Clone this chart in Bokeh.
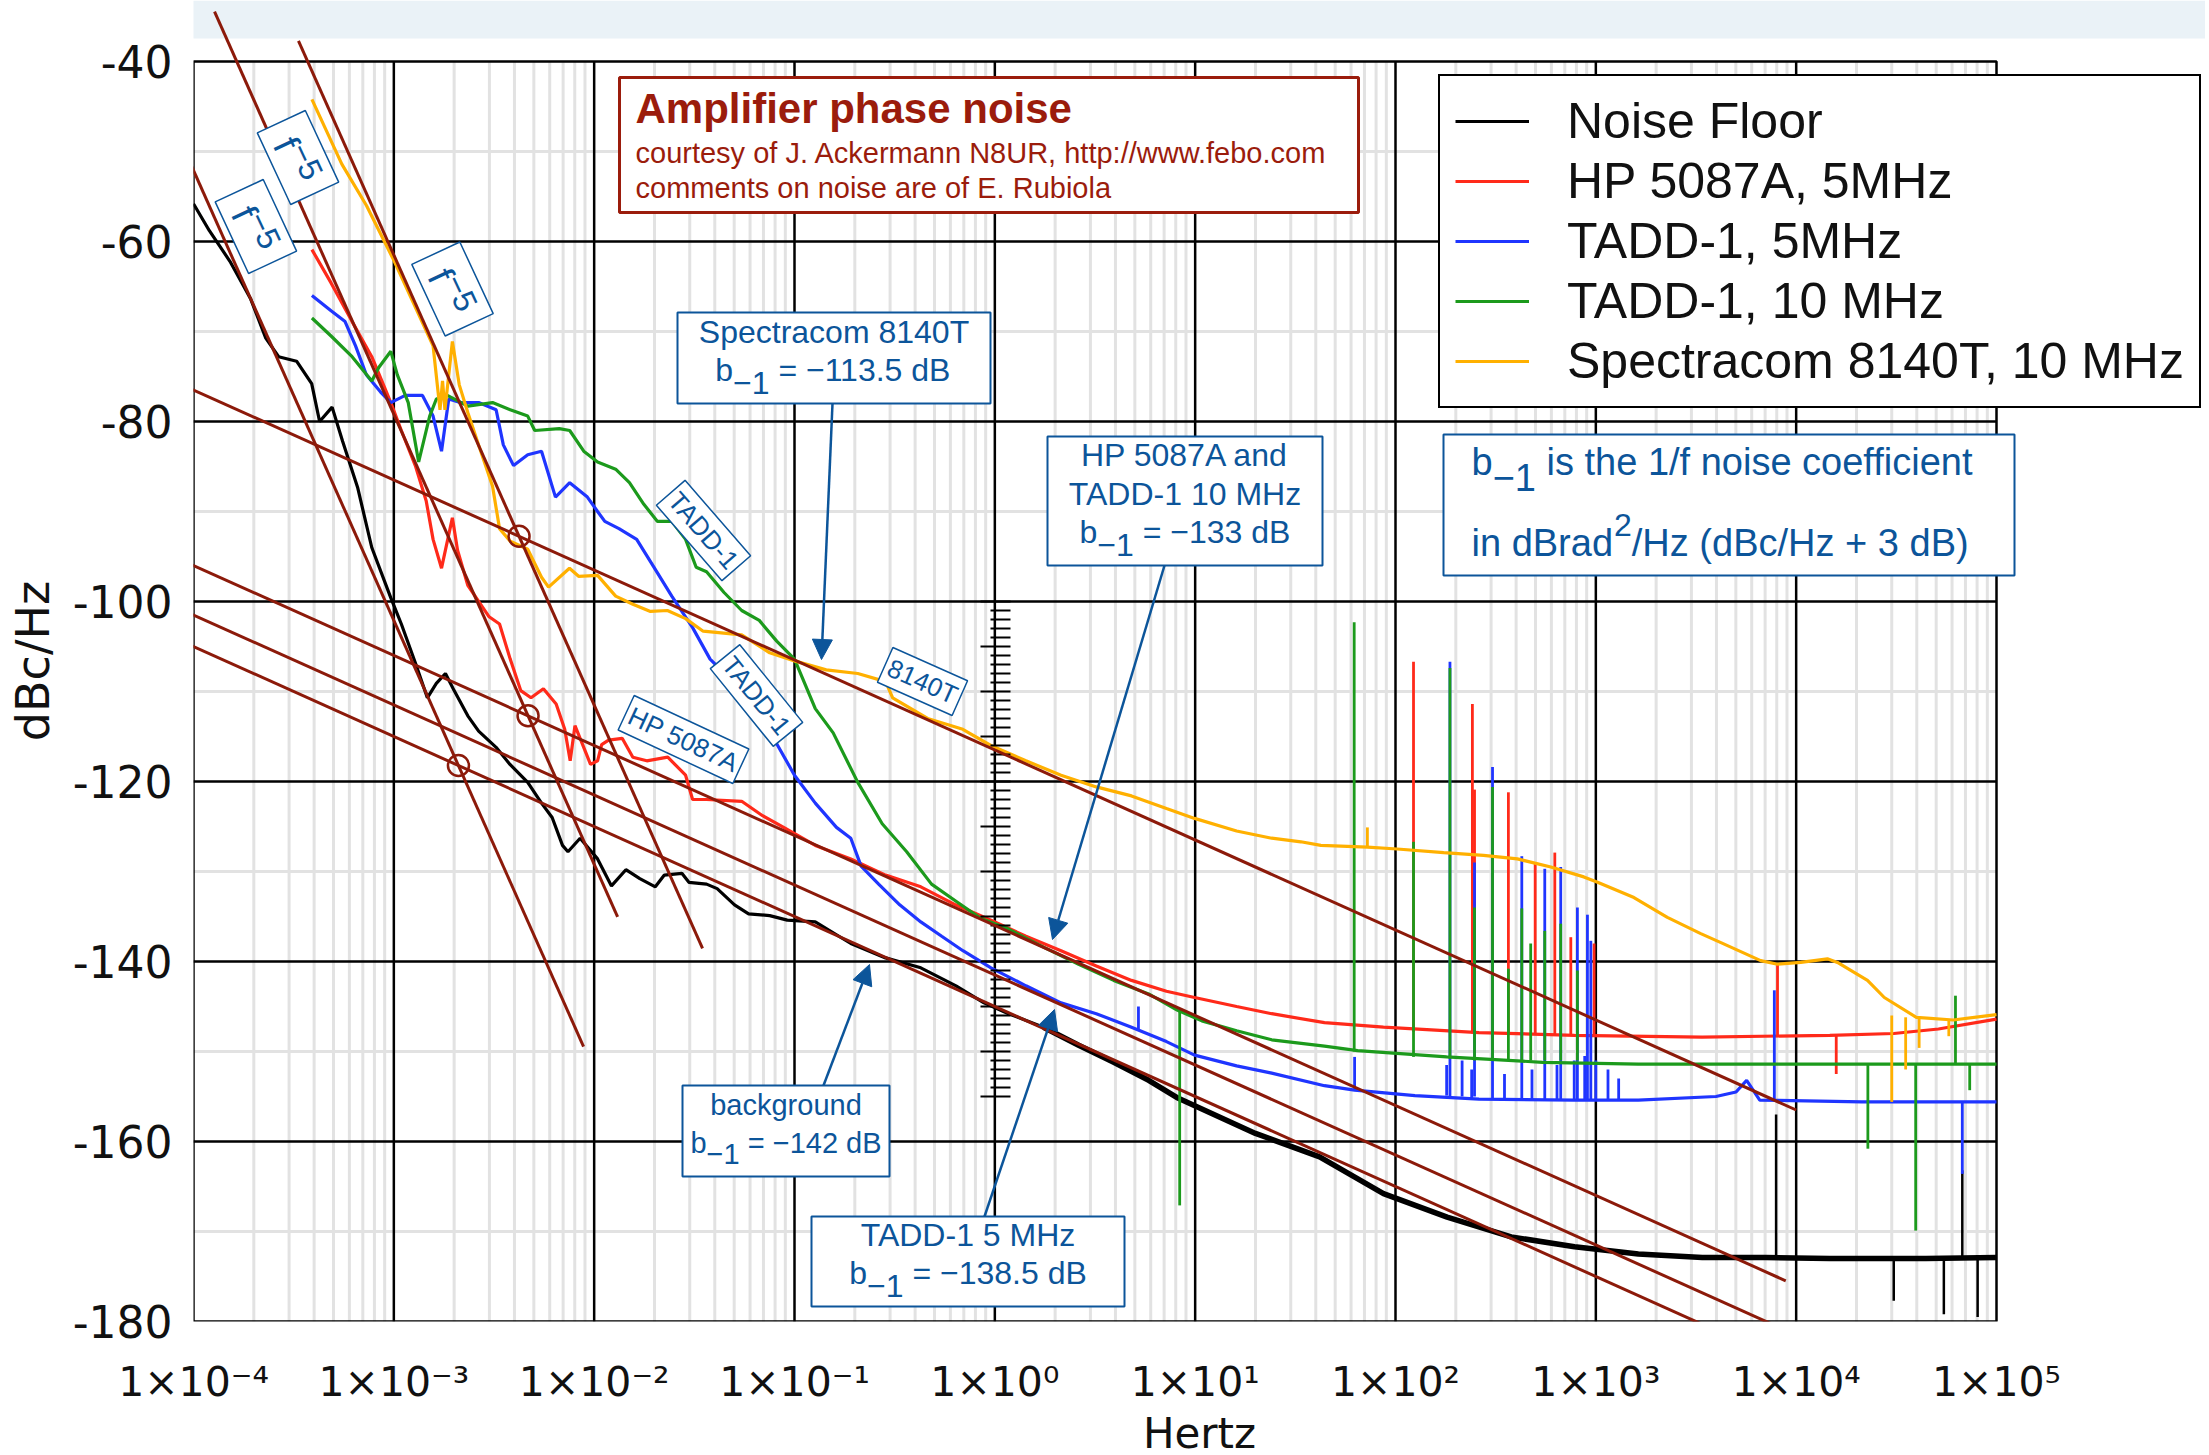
import math
from bokeh.plotting import figure
from bokeh.models import (Range1d, FixedTicker, Label, BoxAnnotation, Arrow, NormalHead,
                          Legend, LegendItem)
from bokeh.embed import file_html
from bokeh.resources import INLINE

# ---------------- data ----------------
BLACK_F = [1e-4, 1.2e-4, 1.52e-4, 1.93e-4, 2.29e-4, 2.66e-4, 3.27e-4, 3.89e-4, 4.26e-4, 4.92e-4,
           5.55e-4, 6.59e-4, 7.76e-4, 9.66e-4, 1.09e-3, 1.28e-3, 1.47e-3, 1.63e-3, 1.81e-3, 2.0e-3,
           2.34e-3, 2.65e-3, 3.24e-3, 3.8e-3, 4.66e-3, 5.46e-3, 6.17e-3, 6.95e-3, 7.4e-3, 8.51e-3,
           1.04e-2, 1.22e-2, 1.44e-2, 1.69e-2, 2.02e-2, 2.24e-2, 2.74e-2, 2.97e-2, 3.64e-2, 4.11e-2,
           5.02e-2, 5.9e-2, 7.52e-2, 9.2e-2, 0.127, 0.191, 0.285, 0.427, 0.64, 0.883,
           1.17, 1.75, 2.62, 3.92, 5.86, 8.09, 20.0, 41.8, 87.1, 181,
           378, 783, 1630, 3400, 7060, 14720, 44360, 1e5]
BLACK_DB = [-55.8, -58.8, -62.2, -66.4, -70.7, -72.8, -73.3, -75.8, -80.0, -78.4,
            -82.2, -87.3, -94.0, -99.6, -102.5, -106.8, -110.7, -109.1, -108.0, -109.9,
            -112.7, -114.4, -116.2, -118.1, -120.1, -122.4, -124.0, -127.1, -127.8, -126.3,
            -128.6, -131.6, -129.8, -130.8, -131.7, -130.4, -130.2, -131.2, -131.4, -131.9,
            -133.7, -134.7, -134.9, -135.4, -135.6, -138.0, -139.6, -140.7, -142.7, -144.6,
            -145.8, -147.3, -149.3, -151.2, -153.2, -155.1, -159.1, -161.7, -165.8, -168.4,
            -170.6, -171.7, -172.5, -172.9, -172.9, -173.0, -173.0, -172.9]
BLACK_SPK_F = [7940, 30700, 54600, 67500, 80500]
BLACK_SPK_A = [-172.9, -173.0, -173.0, -172.9, -172.9]
BLACK_SPK_B = [-157.0, -177.7, -179.2, -163.2, -179.5]

RED_F = [3.9e-4, 4.86e-4, 6.19e-4, 7.76e-4, 9.66e-4, 1.09e-3, 1.28e-3, 1.45e-3, 1.57e-3, 1.73e-3,
         1.96e-3, 2.08e-3, 2.34e-3, 2.99e-3, 3.37e-3, 3.81e-3, 4.3e-3, 4.84e-3, 5.58e-3, 6.46e-3,
         7.13e-3, 7.59e-3, 8.02e-3, 8.87e-3, 9.59e-3, 1.04e-2, 1.09e-2, 1.18e-2, 1.38e-2, 1.56e-2,
         1.83e-2, 2.33e-2, 2.86e-2, 3.1e-2, 3.64e-2, 5.45e-2, 6.93e-2, 8.83e-2, 0.127, 0.191,
         0.285, 0.427, 0.637, 0.957, 1.43, 2.14, 3.21, 4.81, 7.19, 9.93,
         16.1, 24.1, 44.2, 87.1, 261, 783, 3390, 14720, 30690, 51300, 1e5]
RED_DB = [-60.9, -64.6, -68.9, -72.8, -77.9, -81.0, -84.9, -88.8, -93.1, -96.3,
          -90.7, -94.3, -98.2, -101.7, -102.5, -106.4, -109.9, -110.7, -109.7, -111.4,
          -114.2, -117.7, -113.8, -116.2, -118.1, -117.7, -115.9, -115.4, -115.2, -117.3,
          -117.7, -117.3, -119.3, -122.0, -122.0, -122.2, -123.8, -125.1, -127.1, -128.6,
          -130.4, -131.7, -133.7, -135.4, -137.2, -138.8, -140.5, -142.1, -143.3, -144.0,
          -145.0, -145.8, -146.8, -147.3, -147.9, -148.2, -148.4, -148.2, -148.0, -147.5, -146.4]
RED_SPK_F = [123, 242, 248, 366, 498, 624, 750, 980, 8070, 15850]
RED_SPK_A = [-147.8, -148.0, -148.0, -148.0, -148.1, -148.1, -148.2, -148.2, -148.4, -148.2]
RED_SPK_B = [-106.7, -111.4, -120.9, -121.2, -129.1, -127.9, -137.3, -138.0, -140.2, -152.5]

BLUE_F = [3.9e-4, 4.86e-4, 5.71e-4, 6.44e-4, 7.29e-4, 8.57e-4, 9.66e-4, 1.14e-3, 1.39e-3, 1.57e-3,
          1.73e-3, 1.88e-3, 2.16e-3, 2.65e-3, 3.24e-3, 3.52e-3, 3.96e-3, 4.66e-3, 5.46e-3, 6.41e-3,
          7.55e-3, 9.25e-3, 1.04e-2, 1.13e-2, 1.33e-2, 1.63e-2, 1.99e-2, 2.44e-2, 3.1e-2, 3.79e-2,
          5.02e-2, 6.4e-2, 8.15e-2, 0.1, 0.127, 0.162, 0.191, 0.215, 0.263, 0.335,
          0.427, 0.543, 0.693, 0.957, 1.43, 2.14, 3.21, 4.81, 7.19, 9.93,
          16.1, 24.1, 44.2, 62.5, 125, 261, 783, 1630, 3980, 5010, 5660, 6580, 21300, 1e5]
BLUE_DB = [-66.0, -67.7, -68.9, -71.6, -74.8, -76.7, -77.9, -77.1, -77.1, -79.4,
           -83.3, -77.5, -77.9, -77.9, -78.7, -82.6, -84.9, -83.7, -83.3, -88.4,
           -86.8, -88.4, -90.0, -91.1, -91.9, -93.1, -96.2, -99.4, -102.9, -106.4,
           -109.1, -111.9, -115.8, -119.3, -122.4, -125.1, -126.3, -129.4, -131.4, -133.7,
           -135.6, -137.2, -138.8, -140.7, -142.7, -144.6, -145.8, -147.3, -148.9, -150.4,
           -151.6, -152.4, -153.8, -154.3, -154.9, -155.3, -155.4, -155.4, -155.0, -154.5, -153.2, -155.4, -155.6, -155.6]
BLUE_SPK_F = [187, 248, 305, 427, 556, 668, 809, 908, 944, 7780, 5.21, 62.5, 67500,
              180, 215, 240, 350, 480, 640, 780, 880, 1000, 1150, 1300]
BLUE_SPK_A = [-155.0, -155.0, -155.2, -155.3, -155.3, -155.3, -155.3, -155.3, -155.3, -155.4, -147.5, -154.3, -155.6,
              -154.9, -155.0, -155.2, -155.3, -155.3, -155.3, -155.4, -155.4, -155.4, -155.4, -155.4]
BLUE_SPK_B = [-106.7, -129.0, -118.4, -128.3, -129.7, -129.5, -134.0, -134.8, -137.7, -143.2, -145.0, -150.6, -163.6,
              -151.5, -151.0, -152.0, -152.5, -152.0, -151.5, -151.0, -150.5, -151.0, -152.0, -153.0]

GREEN_F = [3.9e-4, 4.86e-4, 6.19e-4, 7.76e-4, 8.41e-4, 9.66e-4, 1.04e-3, 1.18e-3, 1.33e-3, 1.51e-3,
           1.63e-3, 1.85e-3, 2.34e-3, 3.11e-3, 3.81e-3, 4.66e-3, 5.05e-3, 6.7e-3, 7.55e-3, 8.87e-3,
           1.04e-2, 1.28e-2, 1.5e-2, 1.77e-2, 2.07e-2, 2.44e-2, 2.86e-2, 3.23e-2, 3.64e-2, 4.45e-2,
           5.45e-2, 6.67e-2, 8.15e-2, 0.1, 0.127, 0.156, 0.207, 0.274, 0.363, 0.483,
           0.64, 0.849, 1.17, 1.75, 2.62, 3.92, 5.86, 8.13, 10.8, 16.1,
           24.1, 44.2, 64.7, 180, 543, 1630, 7080, 1e5]
GREEN_DB = [-68.5, -70.5, -72.8, -75.5, -74.0, -72.2, -74.8, -77.9, -84.5, -79.4,
            -77.5, -77.1, -78.3, -77.9, -78.7, -79.4, -81.0, -80.8, -81.0, -83.3,
            -84.5, -85.3, -86.8, -89.2, -91.1, -91.1, -93.1, -96.2, -96.7, -99.0,
            -101.0, -102.1, -104.4, -106.4, -111.9, -114.6, -120.1, -124.7, -127.8, -131.4,
            -133.3, -135.2, -136.4, -138.4, -140.3, -142.1, -143.6, -145.4, -146.6, -147.7,
            -148.7, -149.4, -149.9, -150.6, -151.2, -151.4, -151.4, -151.4]
GREEN_SPK_F = [62.2, 123, 187, 248, 305, 366, 427, 473, 556, 668, 809, 8.37, 22800, 39500, 62400, 73500]
GREEN_SPK_A = [-150.0, -150.6, -150.8, -151.0, -151.0, -151.0, -151.0, -151.0, -151.0, -151.0, -151.0,
               -145.4, -151.4, -151.4, -151.4, -151.4]
GREEN_SPK_B = [-102.3, -126.7, -107.4, -134.0, -120.6, -140.8, -134.1, -138.0, -136.6, -135.8, -141.0,
               -167.1, -160.8, -169.9, -143.8, -154.3]

ORANGE_F = [3.9e-4, 5.5e-4, 7.3e-4, 1.0e-3, 1.28e-3, 1.57e-3, 1.7e-3, 1.75e-3, 1.8e-3, 1.96e-3,
            2.12e-3, 2.34e-3, 2.65e-3, 3.11e-3, 3.37e-3, 3.81e-3, 4.66e-3, 5.46e-3, 5.92e-3, 7.53e-3,
            8.36e-3, 1.04e-2, 1.28e-2, 1.56e-2, 1.91e-2, 2.32e-2, 2.86e-2, 3.5e-2, 5.45e-2, 7.52e-2,
            0.1, 0.144, 0.207, 0.285, 0.309, 0.462, 0.692, 0.955, 1.43, 2.14,
            3.21, 4.81, 7.19, 9.93, 16.1, 24.1, 33.7, 42.4, 72.4, 102,
            174, 275, 406, 596, 871, 1020, 1550, 2275, 3340, 4210,
            6650, 8070, 10540, 14320, 16070, 22700, 27540, 39800, 60800, 1e5]
ORANGE_DB = [-44.2, -51.4, -56.0, -62.1, -67.3, -71.6, -78.7, -75.5, -78.7, -71.1,
             -75.9, -79.0, -82.6, -87.2, -91.9, -93.3, -94.2, -97.3, -98.4, -96.3,
             -97.2, -97.1, -99.4, -100.3, -101.1, -101.0, -101.9, -103.3, -103.7, -105.7,
             -106.6, -107.6, -108.0, -108.9, -110.7, -113.0, -114.2, -116.0, -117.7, -119.3,
             -120.6, -121.6, -123.0, -124.1, -125.5, -126.3, -126.7, -127.1, -127.3, -127.5,
             -127.9, -128.2, -128.6, -129.5, -130.6, -131.2, -132.9, -135.1, -136.9, -137.9,
             -139.9, -140.3, -140.1, -139.7, -140.1, -142.1, -144.0, -146.2, -146.5, -145.9]
ORANGE_SPK_F = [72.4, 30000, 35200, 41100, 57800]
ORANGE_SPK_A = [-127.3, -146.0, -146.2, -146.3, -146.5]
ORANGE_SPK_B = [-125.1, -155.6, -152.0, -149.6, -148.3]

SERIES_LABELS = ["Noise Floor", "HP 5087A, 5MHz", "TADD-1, 5MHz", "TADD-1, 10 MHz",
                 "Spectracom 8140T, 10 MHz"]

# 1/f reference lines: b_-1 coefficients (dBrad^2/Hz); L(1 Hz) = b_-1 - 3 dBc/Hz
B1_VALUES = [-113.5, -133.0, -138.5, -142.0]
B1_SPAN = [(-4.015, 4.0), (-4.065, 3.948), (-4.045, 3.968), (-4.1, 3.913)]   # log10 f extents
# f^-5 reference lines: level at 1 Hz (extrapolated), slope -50 dB/decade
F5_LEVELS = [-229.2, -211.5, -252.1]
F5_SPAN = [(-3.895, -1.883), (-3.476, -1.459), (-4.07, -2.053)]

Y_TICKS = list(range(-180, -39, 20))
Y_MINOR = list(range(-170, -40, 20))
X_DECADES = list(range(-4, 6))
SUP = {"-": "\u207b", "0": "\u2070", "1": "\u00b9", "2": "\u00b2", "3": "\u00b3", "4": "\u2074",
       "5": "\u2075"}
X_LABELS = {10.0 ** k: "1\u00d710" + "".join(SUP[c] for c in str(k)) for k in X_DECADES}

# ---------------- styling / layout ----------------
C_BLACK, C_RED, C_BLUE, C_GREEN, C_ORANGE = "#000000", "#ff2a1a", "#1f35ff", "#1c9a1c", "#ffb000"
C_DR = "#8c1a0a"
C_ANN = "#0c559a"
C_TITLE = "#9b1c0c"

FL, FT, FB, FR = 193, 61, 1321, 1996   # plot box on the page (px)
CANVAS_R = 2205                       # right edge of the drawing frame
PXD = (FR - FL) / 9.0                 # px per decade
PXDB = (FB - FT) / 140.0              # px per dB


def sx(X):
    return X - FL


def sy(Y):
    return FB - Y


def fx(X):
    return 10 ** (-4 + (X - FL) / PXD)


def fy(Y):
    return -40 - (Y - FT) / PXDB


p = figure(x_axis_type="log",
           x_range=Range1d(1e-4, 10 ** (5 + (CANVAS_R - FR) / PXD)),
           y_range=Range1d(-180, -40 + FT / PXDB),
           frame_width=CANVAS_R - FL, frame_height=FB,
           min_border_left=FL, min_border_top=0, min_border_right=0, min_border_bottom=128,
           output_backend="svg", toolbar_location=None, title=None,
           background_fill_color="white", border_fill_color="white", outline_line_color=None)

xt = FixedTicker(ticks=[10.0 ** k for k in X_DECADES], minor_ticks=[])
yt = FixedTicker(ticks=Y_TICKS, minor_ticks=[])
p.xaxis.ticker = xt
p.yaxis.ticker = yt
p.xgrid.visible = False
p.ygrid.visible = False
for ax in (p.xaxis, p.yaxis):
    ax.major_tick_line_color = None
    ax.minor_tick_line_color = None
    ax.axis_line_color = None
    ax.major_label_text_font = "DejaVu Sans"
    ax.major_label_text_color = "#111111"
    ax.axis_label_text_font = "DejaVu Sans"
    ax.axis_label_text_font_style = "normal"
    ax.axis_label_text_color = "#111111"
p.xaxis.major_label_overrides = X_LABELS
p.xaxis.major_label_text_font_size = "41px"
p.xaxis.major_label_standoff = 30
p.xaxis.axis_label = "Hertz"
p.xaxis.axis_label_text_font_size = "42px"
p.xaxis.axis_label_standoff = 0
p.yaxis.major_label_overrides = {v: str(v) for v in Y_TICKS}
p.yaxis.major_label_text_font_size = "44px"
p.yaxis.major_label_standoff = 15
p.yaxis.axis_label = "dBc/Hz"
p.yaxis.axis_label_text_font_size = "46px"
p.yaxis.axis_label_standoff = 10

# ---------------- grid & plot box (drawn through the scales) ----------------
VX_MINOR = [m * 10.0 ** k for k in X_DECADES[:-1] for m in range(2, 10)]
VX_MAJOR = [10.0 ** k for k in X_DECADES[1:-1]]
p.segment(VX_MINOR, -180, VX_MINOR, -40, line_color="#e2e2e2", line_width=3, level="underlay")
p.segment(1e-4, Y_MINOR, 1e5, Y_MINOR, line_color="#e2e2e2", line_width=3, level="underlay")
p.segment(VX_MAJOR, -180, VX_MAJOR, -40, line_color="black", line_width=2.5, level="underlay")
p.segment(1e-4, Y_TICKS[1:-1], 1e5, Y_TICKS[1:-1], line_color="black", line_width=2.5,
          level="underlay")
p.quad(left=[1e-4], right=[1e5], bottom=[-180], top=[-40], fill_color=None,
       line_color="black", line_width=2.5, level="underlay")

# ---------------- data lines ----------------
LW = 3.2
r_black = p.line(BLACK_F, BLACK_DB, line_color=C_BLACK, line_width=LW)
nb = [i for i, f in enumerate(BLACK_F) if f >= 1.5]
p.line([BLACK_F[i] for i in nb], [BLACK_DB[i] for i in nb], line_color=C_BLACK, line_width=5.5)
p.segment(BLACK_SPK_F, BLACK_SPK_A, BLACK_SPK_F, BLACK_SPK_B, line_color=C_BLACK, line_width=2.5)
r_red = p.line(RED_F, RED_DB, line_color=C_RED, line_width=LW)
p.segment(RED_SPK_F, RED_SPK_A, RED_SPK_F, RED_SPK_B, line_color=C_RED, line_width=2.8)
r_blue = p.line(BLUE_F, BLUE_DB, line_color=C_BLUE, line_width=LW)
p.segment(BLUE_SPK_F, BLUE_SPK_A, BLUE_SPK_F, BLUE_SPK_B, line_color=C_BLUE, line_width=2.8)
r_green = p.line(GREEN_F, GREEN_DB, line_color=C_GREEN, line_width=LW)
p.segment(GREEN_SPK_F, GREEN_SPK_A, GREEN_SPK_F, GREEN_SPK_B, line_color=C_GREEN, line_width=2.8)
r_orange = p.line(ORANGE_F, ORANGE_DB, line_color=C_ORANGE, line_width=LW)
p.segment(ORANGE_SPK_F, ORANGE_SPK_A, ORANGE_SPK_F, ORANGE_SPK_B, line_color=C_ORANGE, line_width=2.8)

# ruler of dB ticks on the 1 Hz line
maj = [v for v in range(-155, -99) if v % 5 == 0]
mnr = [v for v in range(-155, -99) if v % 5 != 0]
p.segment([fx(980)] * len(maj), maj, [fx(1010)] * len(maj), maj, line_color="black", line_width=2)
p.segment([fx(990)] * len(mnr), mnr, [fx(1010)] * len(mnr), mnr, line_color="black", line_width=2)

# ---------------- top strip (paper background) ----------------
p.add_layout(BoxAnnotation(left=sx(0), right=sx(2209), top=sy(0), bottom=sy(38),
                           left_units="screen", right_units="screen", top_units="screen",
                           bottom_units="screen", fill_color="#eaf2f7", fill_alpha=1,
                           line_color=None, level="underlay"))

# ---------------- reference lines ----------------
for b1, (u0, u1) in zip(B1_VALUES, B1_SPAN):
    L1 = b1 - 3.0
    p.add_layout(Arrow(start=None, end=None, x_start=10 ** u0, y_start=L1 - 10 * u0,
                       x_end=10 ** u1, y_end=L1 - 10 * u1, line_color=C_DR, line_width=3))
for c, (u0, u1) in zip(F5_LEVELS, F5_SPAN):
    p.add_layout(Arrow(start=None, end=None, x_start=10 ** u0, y_start=c - 50 * u0,
                       x_end=10 ** u1, y_end=c - 50 * u1, line_color=C_DR, line_width=3))

# intersection circles: (f^-5 line index, 1/f line index)
cx, cy = [], []
for i5, i1 in [(1, 0), (0, 1), (2, 3)]:
    L1 = B1_VALUES[i1] - 3.0
    u = (F5_LEVELS[i5] - L1) / 40.0
    cx.append(10 ** u)
    cy.append(L1 - 10 * u)
p.scatter(cx, cy, marker="circle", size=21, fill_color=None, line_color=C_DR, line_width=2.5)

# ---------------- helpers for annotations ----------------
AW = {' ': 0.278, '=': 0.584, '\u2212': 0.584, '.': 0.278, '/': 0.278, '(': 0.333, ')': 0.333,
      '+': 0.584, 'a': 0.556, 'b': 0.556, 'c': 0.5, 'd': 0.556, 'e': 0.556, 'f': 0.278,
      'h': 0.556, 'i': 0.222, 'n': 0.556, 'o': 0.556, 'r': 0.333, 's': 0.5, 't': 0.278,
      'z': 0.5, 'B': 0.667, 'H': 0.722}


def aw(s, size):
    return size * sum(AW.get(ch, 0.556) for ch in s)


def lab(X, Y, text, size, color=C_ANN, align="left", style="normal", font="Liberation Sans",
        angle=0.0, level="annotation", mid=False):
    # Y is the text baseline (page px) unless mid=True
    yc = Y if mid else Y - 0.35 * size
    p.add_layout(Label(x=sx(X), y=sy(yc), x_units="screen", y_units="screen", text=text,
                       text_font=font, text_font_size=f"{size}px", text_color=color,
                       text_align=align, text_baseline="middle", text_font_style=style,
                       angle=angle, angle_units="deg", level=level))


def box(X0, Y0, X1, Y1, color=C_ANN, width=2):
    p.add_layout(BoxAnnotation(left=sx(X0), right=sx(X1), top=sy(Y0), bottom=sy(Y1),
                               left_units="screen", right_units="screen", top_units="screen",
                               bottom_units="screen", fill_color="white", fill_alpha=1,
                               line_color=color, line_width=width, line_alpha=1))


def b_line(left, base, rest, size, drop):
    wb, ws, gap = aw("b", size), aw("\u22121", size), aw(" ", size)
    lab(left, base, "b", size)
    lab(left + wb, base + drop, "\u22121", size)
    lab(left + wb + ws + gap, base, rest, size)


def b_line_c(cx_, base, rest, size, drop):
    total = aw("b", size) + aw("\u22121", size) + aw(" ", size) + aw(rest, size)
    b_line(cx_ - total / 2.0, base, rest, size, drop)


def arrow(X0, Y0, X1, Y1):
    p.add_layout(Arrow(end=NormalHead(size=20, fill_color=C_ANN, line_color=C_ANN, line_width=1),
                       x_start=sx(X0), y_start=sy(Y0), x_end=sx(X1), y_end=sy(Y1),
                       start_units="screen", end_units="screen", line_color=C_ANN, line_width=2.5))


def rlab(X, Y, text, angle, size=26):
    p.add_layout(Label(x=sx(X), y=sy(Y), x_units="screen", y_units="screen", text=text,
                       text_font="Liberation Sans", text_font_size=f"{size}px", text_color=C_ANN,
                       text_align="center", text_baseline="middle", angle=angle, angle_units="deg",
                       border_line_color=C_ANN, border_line_width=1.5, background_fill_color="white",
                       background_fill_alpha=1, padding=4))


# title box
box(619, 77, 1358, 212, color=C_TITLE, width=3)
lab(635, 123, "Amplifier phase noise", 42, color=C_TITLE, style="bold")
lab(635, 163, "courtesy of J. Ackermann N8UR, http://www.febo.com", 29, color=C_TITLE)
lab(635, 198, "comments on noise are of E. Rubiola", 29, color=C_TITLE)

# blue boxes
box(677, 312, 990, 403)
lab(833.5, 343, "Spectracom 8140T", 32, align="center")
b_line_c(833.5, 381, "= \u2212113.5 dB", 32, 13)

box(1047, 436, 1322, 565)
lab(1184.5, 465.5, "HP 5087A and", 32, align="center")
lab(1184.5, 505, "TADD-1 10 MHz", 32, align="center")
b_line_c(1184.5, 543, "= \u2212133 dB", 32, 13)

box(682, 1085, 889, 1176)
lab(785.5, 1115, "background", 29, align="center")
b_line_c(785.5, 1153, "= \u2212142 dB", 29, 11)

box(811, 1216, 1124, 1306)
lab(967.5, 1246, "TADD-1 5 MHz", 32, align="center")
b_line_c(967.5, 1284, "= \u2212138.5 dB", 32, 13)

box(1443, 434, 2014, 575)
b_line(1471, 475, "is the 1/f noise coefficient", 38, 15)
w_in = aw("in dBrad", 38)
lab(1471, 556, "in dBrad", 38)
lab(1471 + w_in + 1, 536, "2", 32)
lab(1471 + w_in + 1 + aw("2", 32), 556, "/Hz (dBc/Hz + 3 dB)", 38)

# arrows
arrow(832, 403, 821, 659)
arrow(1164, 565, 1052, 939)
arrow(823, 1085, 869, 964)
arrow(984, 1216, 1054, 1009)

# rotated curve labels
rlab(922, 681, "8140T", -24)
rlab(683, 739, "HP 5087A", -25)
rlab(703, 530, "TADD-1", -49)
rlab(756, 695, "TADD-1", -51)

# f^-5 rotated boxes
F5_BOX = [(297.5, 157), (255.4, 226), (452, 288.5)]
ANG = -65.0
p.rect([fx(X) for X, _ in F5_BOX], [fy(Y) for _, Y in F5_BOX], width=79, height=53,
       width_units="screen", height_units="screen", angle=ANG, angle_units="deg",
       fill_color="white", line_color=C_ANN, line_width=1.5, level="overlay")
th = math.radians(ANG)
for X, Y in F5_BOX:
    for (u, v, t, s) in [(-17, -5, "f", 38), (7, 6, "\u22125", 32)]:
        dx = u * math.cos(th) - v * math.sin(th)
        dy = u * math.sin(th) + v * math.cos(th)
        p.add_layout(Label(x=sx(X) + dx, y=sy(Y) + dy, x_units="screen", y_units="screen",
                           text=t, text_font="Liberation Sans", text_font_size=f"{s}px",
                           text_color=C_ANN, text_align="center", text_baseline="middle",
                           angle=ANG, angle_units="deg", level="overlay"))

# legend
legend = Legend(items=[LegendItem(label=SERIES_LABELS[0], renderers=[r_black]),
                       LegendItem(label=SERIES_LABELS[1], renderers=[r_red]),
                       LegendItem(label=SERIES_LABELS[2], renderers=[r_blue]),
                       LegendItem(label=SERIES_LABELS[3], renderers=[r_green]),
                       LegendItem(label=SERIES_LABELS[4], renderers=[r_orange])],
                location=(sx(1438), sy(408)), margin=0, padding=15, spacing=0,
                label_height=60, glyph_width=74, glyph_height=20, label_standoff=38,
                label_text_font="Liberation Sans", label_text_font_size="50px",
                label_text_color="#111111", border_line_color="black", border_line_width=2.5,
                border_line_alpha=1, background_fill_color="white", background_fill_alpha=1)
p.add_layout(legend)

open("out.html", "w").write(file_html(p, INLINE))
